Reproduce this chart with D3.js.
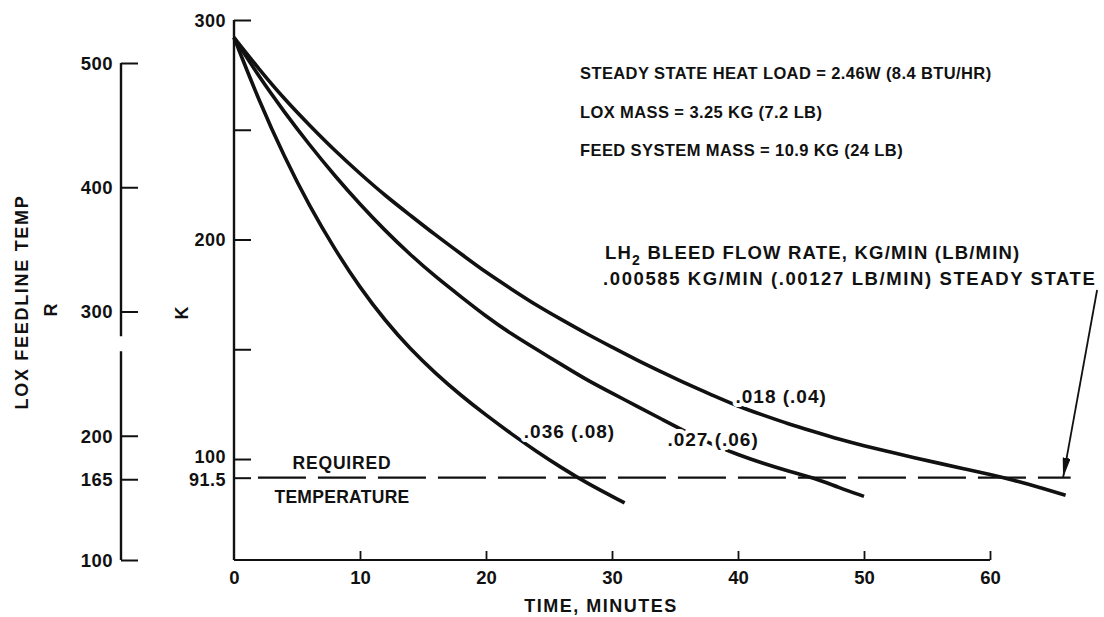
<!DOCTYPE html>
<html>
<head>
<meta charset="utf-8">
<script src="https://cdn.jsdelivr.net/npm/d3@7"></script>
<style>
  html, body { margin: 0; padding: 0; background: #fff; }
  svg { display: block; }
  text { font-family: "Liberation Sans", Arial, sans-serif; font-weight: bold; fill: #111; }
</style>
</head>
<body>
<svg id="chart" width="1104" height="617"></svg>
<script>
// ---- data ----
const timeTicks = [0, 10, 20, 30, 40, 50, 60];
const kelvinTicks = [300, 250, 200, 150, 100, 91.5];
const kelvinTickLabels = ["300", "", "200", "", "100", "91.5"];
const rankineTicks = [500, 400, 300, 200, 165, 100];
const requiredTemp = 91.5;

// LH2 bleed flow .036 kg/min (.08 lb/min)
const timeHigh = [0, 2, 4, 6, 8, 10, 12, 14, 16, 18, 20, 22, 24, 26, 28, 31];
const tempHigh = [292, 263, 237.5, 215, 195.5, 178, 163, 150, 139, 129, 120, 111.5, 103.5, 96, 89, 80];
// LH2 bleed flow .027 kg/min (.06 lb/min)
const timeMid = [0, 2, 4, 6, 8, 10, 12, 14, 16, 18, 20, 22, 24, 26, 28, 30, 32, 34, 36, 38, 40, 42, 44, 46, 48, 50];
const tempMid = [292, 274, 258, 243, 229, 216, 204, 193, 183, 174, 165, 157, 150, 143, 136, 130, 124, 118, 112, 106.5, 102, 98, 94.5, 91.5, 87, 83];
// LH2 bleed flow .018 kg/min (.04 lb/min)
const timeLow = [0, 2, 4, 6, 8, 10, 12, 14, 16, 18, 20, 22, 24, 26, 28, 30, 32, 34, 36, 38, 40, 42, 44, 46, 48, 50, 52, 54, 56, 58, 60, 62, 64, 66];
const tempLow = [292, 277.5, 264, 252, 240.5, 230, 220, 211, 202, 193.5, 185, 177.5, 170, 163.5, 157, 151, 145, 139.5, 134, 129, 124, 120, 116, 112.5, 109, 106, 103.3, 100.6, 98, 95.5, 93, 90.2, 87, 83.5];

const curveLabels = [".036 (.08)", ".027 (.06)", ".018 (.04)"];
const notes = [
  "STEADY STATE HEAT LOAD = 2.46W (8.4 BTU/HR)",
  "LOX MASS = 3.25 KG (7.2 LB)",
  "FEED SYSTEM MASS = 10.9 KG (24 LB)"
];

// ---- scales ----
const svg = d3.select("#chart");
const x = d3.scaleLinear().domain([0, 60]).range([234, 990]);
const yK = d3.scaleLinear().domain([54, 300]).range([560, 20]);
const yR = d3.scaleLinear().domain([100, 500]).range([560, 63]);

const ink = "#111";
const tickFont = 18.5;

// ---- time axis (ticks point up into the plot) ----
const xAxis = d3.axisBottom(x).tickValues(timeTicks).tickSize(-9).tickPadding(11).tickFormat(d3.format("d"));
const gx = svg.append("g").attr("transform", `translate(0,${yK(54)})`).call(xAxis);
gx.select(".domain").attr("d", `M${x(0)},0H${x(60)}`).attr("stroke", ink).attr("stroke-width", 2.2);
gx.selectAll(".tick line").attr("stroke", ink).attr("stroke-width", 1.8);
gx.selectAll(".tick").filter(d => d === 0).select("line").remove();
gx.selectAll(".tick text").attr("font-size", tickFont).attr("fill", ink).attr("font-family", null);

// ---- kelvin axis ----
const kAxis = d3.axisLeft(yK).tickValues(kelvinTicks).tickSize(-17).tickPadding(8)
  .tickFormat((d, i) => kelvinTickLabels[i]);
const gk = svg.append("g").attr("transform", `translate(${x(0)},0)`).call(kAxis);
gk.select(".domain").attr("d", `M0,${yK(300)}V${yK(54)}`).attr("stroke", ink).attr("stroke-width", 2.4);
gk.selectAll(".tick line").attr("stroke", ink).attr("stroke-width", 2);
// the 100 and 91.5 labels are nudged apart so they stay legible
gk.selectAll(".tick text").attr("font-size", 18).attr("fill", ink).attr("font-family", null)
  .attr("letter-spacing", 0.5)
  .attr("dy", d => d === 100 ? "0.22em" : d === 91.5 ? "0.45em" : "0.35em");

// ---- rankine axis (broken between 300 and 200) ----
const rx = 121;
const rAxis = d3.axisLeft(yR).tickValues(rankineTicks).tickSize(-17).tickPadding(8).tickFormat(d3.format("d"));
const gr = svg.append("g").attr("transform", `translate(${rx},0)`).call(rAxis);
gr.select(".domain").attr("d", `M0,${yR(500)}V${yR(280)}M0,${yR(268)}V${yR(100)}`)
  .attr("stroke", ink).attr("stroke-width", 2.4).attr("fill", "none");
gr.selectAll(".tick line").attr("stroke", ink).attr("stroke-width", 2);
gr.selectAll(".tick text").attr("font-size", tickFont).attr("fill", ink).attr("font-family", null)
  .attr("dy", "0.35em").attr("letter-spacing", 0.5);

// ---- axis titles ----
svg.append("text").attr("transform", "translate(28,302) rotate(-90)")
  .attr("text-anchor", "middle").attr("font-size", 18).attr("letter-spacing", 1.7).text("LOX FEEDLINE TEMP");
svg.append("text").attr("transform", "translate(57,310) rotate(-90)")
  .attr("text-anchor", "middle").attr("font-size", 18).text("R");
svg.append("text").attr("transform", "translate(188,313) rotate(-90)")
  .attr("text-anchor", "middle").attr("font-size", 18).text("K");
svg.append("text").attr("x", 601).attr("y", 612).attr("text-anchor", "middle")
  .attr("font-size", 18).attr("letter-spacing", 1.5).text("TIME, MINUTES");

// ---- required temperature ----
svg.append("line")
  .attr("x1", x(1.9)).attr("x2", x(66.4))
  .attr("y1", yK(requiredTemp)).attr("y2", yK(requiredTemp))
  .attr("stroke", ink).attr("stroke-width", 2.2).attr("stroke-dasharray", "48 12");
svg.append("text").attr("x", 342).attr("y", 469).attr("text-anchor", "middle")
  .attr("font-size", 17.5).attr("letter-spacing", 0.8).text("REQUIRED");
svg.append("text").attr("x", 342).attr("y", 503).attr("text-anchor", "middle")
  .attr("font-size", 17.5).attr("letter-spacing", 0.3).text("TEMPERATURE");

// ---- cooldown curves ----
const line = d3.line().x(d => x(d[0])).y(d => yK(d[1])).curve(d3.curveBasis);
const series = [
  d3.zip(timeHigh, tempHigh),
  d3.zip(timeMid, tempMid),
  d3.zip(timeLow, tempLow)
];
svg.append("g").selectAll("path").data(series).join("path")
  .attr("d", line).attr("fill", "none").attr("stroke", ink)
  .attr("stroke-width", 3.6).attr("stroke-linecap", "butt");

// curve labels sit on a white halo that breaks the line beneath them
const labelPos = [[23, 112.5], [34.4, 109], [39.8, 128.5]];
svg.append("g").selectAll("text").data(curveLabels).join("text")
  .attr("x", (d, i) => x(labelPos[i][0])).attr("y", (d, i) => yK(labelPos[i][1]))
  .attr("dy", "0.35em").attr("font-size", 19).attr("letter-spacing", 1)
  .attr("stroke", "#fff").attr("stroke-width", 8).attr("stroke-linejoin", "round").attr("paint-order", "stroke")
  .text(d => d);

// ---- notes ----
svg.append("g").selectAll("text").data(notes).join("text")
  .attr("x", 580).attr("y", (d, i) => 79 + i * 38.5)
  .attr("font-size", 16.5).attr("letter-spacing", 0.4).text(d => d);

const flow = svg.append("text").attr("x", 605).attr("y", 259).attr("font-size", 18.5).attr("letter-spacing", 1.2);
flow.append("tspan").text("LH");
flow.append("tspan").attr("dy", 6).attr("font-size", 14).text("2");
flow.append("tspan").attr("dy", -6).text(" BLEED FLOW RATE, KG/MIN (LB/MIN)");
svg.append("text").attr("x", 603).attr("y", 285).attr("font-size", 18.5).attr("letter-spacing", 1.6)
  .text(".000585 KG/MIN (.00127 LB/MIN) STEADY STATE");

// ---- steady-state arrow ----
svg.append("defs").append("marker").attr("id", "head")
  .attr("viewBox", "0 0 20 8").attr("refX", 20).attr("refY", 4)
  .attr("markerWidth", 20).attr("markerHeight", 8).attr("markerUnits", "userSpaceOnUse")
  .attr("orient", "auto")
  .append("path").attr("d", "M0,0L20,4L0,8Z").attr("fill", ink);
svg.append("line")
  .attr("x1", x(68.5)).attr("y1", yK(177))
  .attr("x2", x(65.8)).attr("y2", yK(requiredTemp))
  .attr("stroke", ink).attr("stroke-width", 1.8).attr("marker-end", "url(#head)");
</script>
</body>
</html>
